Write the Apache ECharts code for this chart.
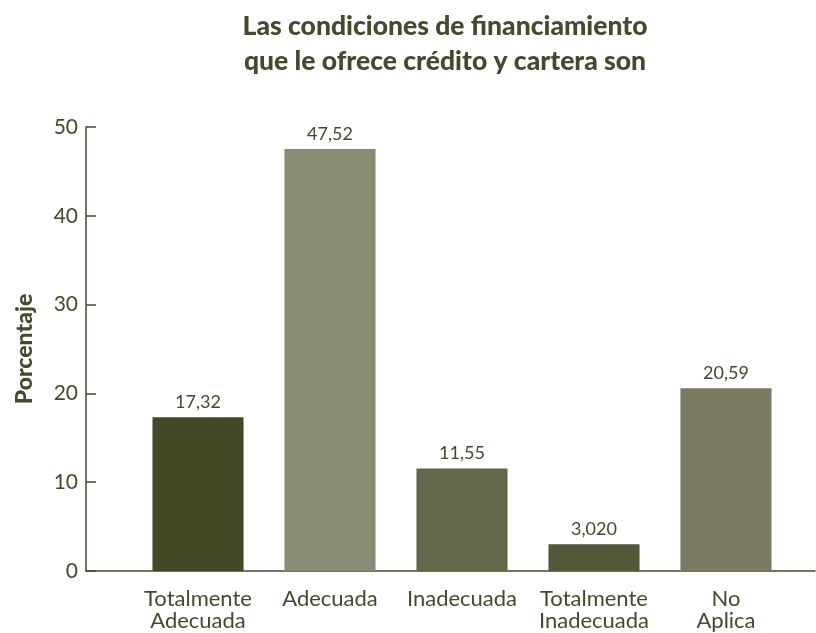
<!DOCTYPE html>
<html>
<head>
<meta charset="utf-8">
<script src="https://cdn.jsdelivr.net/npm/echarts@6/dist/echarts.min.js"></script>
<style>
  html, body { margin: 0; padding: 0; background: #fff; }
  #chart { width: 816px; height: 633px; }
</style>
</head>
<body>
<div id="chart"></div>
<script>
var categories = ['Totalmente\nAdecuada', 'Adecuada', 'Inadecuada', 'Totalmente\nInadecuada', 'No\nAplica'];
var values = [17.32, 47.52, 11.55, 3.020, 20.59];
var valueLabels = ['17,32', '47,52', '11,55', '3,020', '20,59'];
var barColors = ['#434827', '#8a8b75', '#646749', '#545739', '#797a61'];

var ink = '#444a2c';
var font = 'Lato';

var chart = echarts.init(document.getElementById('chart'));

var option = {
    backgroundColor: '#ffffff',
    textStyle: { fontFamily: font },
    title: {
        text: 'Las condiciones de financiamiento\nque le ofrece crédito y cartera son',
        left: 440,
        top: 4,
        textAlign: 'center',
        textStyle: {
            fontFamily: font,
            fontSize: 26.5,
            fontWeight: 900,
            color: ink,
            lineHeight: 35
        }
    },
    grid: [
        { left: 132, right: 24, top: 127, bottom: 62 },
        { left: 86, right: 1, top: 127, bottom: 62 }
    ],
    xAxis: [{
        type: 'category',
        gridIndex: 0,
        data: categories,
        axisLine: { show: false },
        axisTick: {
            alignWithLabel: true,
            length: 10,
            lineStyle: { color: ink, width: 1.5 }
        },
        axisLabel: {
            color: ink,
            fontSize: 22,
            lineHeight: 22,
            margin: 17,
            interval: 0
        }
    }, {
        type: 'value',
        gridIndex: 1,
        axisLine: { show: true, onZero: false, lineStyle: { color: ink, width: 1.5 } },
        axisTick: { show: false },
        axisLabel: { show: false },
        splitLine: { show: false }
    }],
    yAxis: [{
        type: 'value',
        gridIndex: 0,
        min: 0,
        max: 50,
        interval: 10,
        offset: 46,
        name: 'Porcentaje',
        nameLocation: 'middle',
        nameGap: 50,
        nameTextStyle: {
            color: ink,
            fontSize: 23,
            fontWeight: 900,
            fontFamily: font
        },
        axisLine: { show: true, lineStyle: { color: ink, width: 1.5 } },
        axisTick: {
            show: true,
            inside: true,
            length: 10,
            lineStyle: { color: ink, width: 1.5 }
        },
        axisLabel: {
            color: ink,
            fontSize: 21,
            margin: 8
        },
        splitLine: { show: false }
    }, {
        type: 'value',
        gridIndex: 1,
        show: false
    }],
    series: [{
        type: 'bar',
        xAxisIndex: 0,
        yAxisIndex: 0,
        barWidth: '69%',
        data: values.map(function (v, i) {
            return { value: v, itemStyle: { color: barColors[i] } };
        }),
        label: {
            show: true,
            position: 'top',
            distance: 6,
            color: ink,
            fontSize: 18,
            fontFamily: font,
            formatter: function (p) { return valueLabels[p.dataIndex]; }
        }
    }]
};

chart.setOption(option);
</script>
</body>
</html>
